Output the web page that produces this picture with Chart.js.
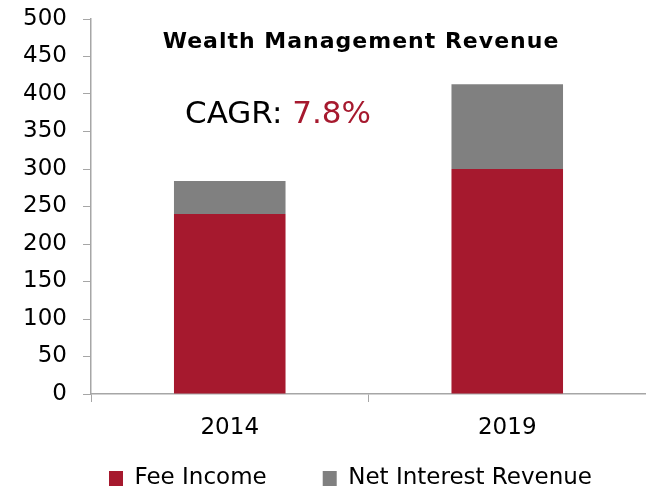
<!DOCTYPE html>
<html>
<head>
<meta charset="utf-8">
<script src="https://cdn.jsdelivr.net/npm/chart.js@4"></script>
<style>
html,body{margin:0;padding:0;background:#fff;}
#wrap{width:646px;height:490px;position:relative;}
</style>
</head>
<body>
<div id="wrap"><canvas id="c" width="646" height="490"></canvas></div>
<script>
const categories = ['2014', '2019'];
const feeIncome = [240, 300];
const netInterest = [44, 113];
const yTicks = [0, 50, 100, 150, 200, 250, 300, 350, 400, 450, 500];
const titleText = 'Wealth Management Revenue';
const cagrLabel = 'CAGR: ';
const cagrValue = '7.8%';

const RED = '#A6192E';
const GRAY = '#808080';
const AXIS = '#A6A6A6';
const FONT = "'DejaVu Sans', Verdana, sans-serif";

const textPlugin = {
  id: 'texts',
  afterLayout(chart) {
    const lg = chart.legend;
    if (lg) {
      lg.left = 53;
      lg.right = 720;
      lg.top = 411;
      lg.bottom = 490;
      lg.width = lg.right - lg.left;
      lg.height = lg.bottom - lg.top;
    }
  },
  afterDraw(chart) {
    const ctx = chart.ctx;
    ctx.save();
    ctx.textBaseline = 'alphabetic';
    ctx.font = 'bold 22px ' + FONT;
    try { ctx.letterSpacing = '1px'; } catch (e) {}
    ctx.fillStyle = '#000';
    ctx.textAlign = 'center';
    ctx.fillText(titleText, 361, 48);
    try { ctx.letterSpacing = '0px'; } catch (e) {}
    ctx.font = '31px ' + FONT;
    ctx.textAlign = 'left';
    const w1 = ctx.measureText(cagrLabel).width;
    const w2 = ctx.measureText(cagrValue).width;
    const x0 = 278 - (w1 + w2) / 2;
    ctx.fillStyle = '#000';
    ctx.fillText(cagrLabel, x0, 123);
    ctx.fillStyle = RED;
    ctx.fillText(cagrValue, x0 + w1, 123);
    ctx.restore();
  }
};

new Chart(document.getElementById('c'), {
  type: 'bar',
  data: {
    labels: categories,
    datasets: [
      { label: 'Fee Income', data: feeIncome, backgroundColor: RED, borderWidth: 0 },
      { label: 'Net Interest Revenue', data: netInterest, backgroundColor: GRAY, borderWidth: 0 }
    ]
  },
  options: {
    responsive: false,
    animation: false,
    devicePixelRatio: 1,
    layout: { padding: { top: 19, right: 0, left: 0, bottom: 0 } },
    datasets: { bar: { barPercentage: 0.402, categoryPercentage: 1 } },
    plugins: {
      title: { display: false },
      tooltip: { enabled: false },
      legend: {
        position: 'bottom',
        align: 'start',
        maxHeight: 46,
        labels: {
          font: { family: FONT, size: 23 },
          color: '#000',
          boxWidth: 14,
          boxHeight: 15,
          padding: 56
        }
      }
    },
    scales: {
      x: {
        stacked: true,
        grid: { drawOnChartArea: false, drawTicks: true, tickLength: 8, color: AXIS, offset: true },
        border: { display: true, color: AXIS, width: 1.5 },
        ticks: { font: { family: FONT, size: 23 }, color: '#000', padding: 12 },
        afterFit(s) { s.height = 50; }
      },
      y: {
        stacked: true,
        min: 0,
        max: 500,
        afterBuildTicks(s) { s.ticks = yTicks.map(v => ({ value: v })); },
        grid: { drawOnChartArea: false, drawTicks: true, tickLength: 8, color: AXIS },
        border: { display: true, color: AXIS, width: 1.5 },
        ticks: { font: { family: FONT, size: 23, lineHeight: 0.2 }, color: '#000', padding: 16 },
        afterFit(s) { s.width = 91; }
      }
    }
  },
  plugins: [textPlugin]
});
</script>
</body>
</html>
